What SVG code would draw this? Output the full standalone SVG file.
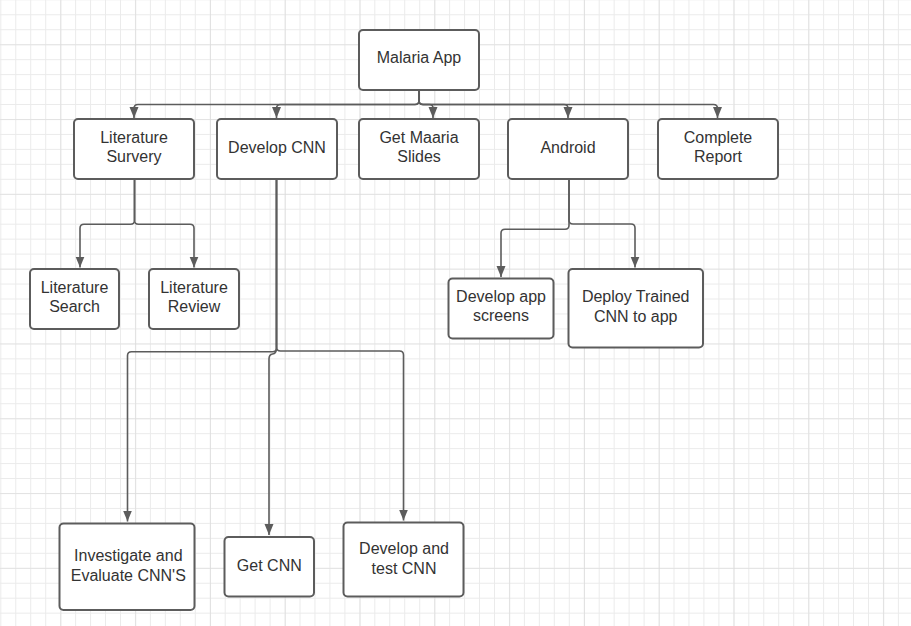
<svg xmlns="http://www.w3.org/2000/svg" width="911" height="626" viewBox="0 0 911 626">
  <defs>
    <!-- fine grid, 5 cells per major square -->
    <pattern id="gridMinor" patternUnits="userSpaceOnUse" x="0.3" y="-0.7" width="14.96" height="14.96">
      <path d="M0,0.5 H14.96 M0.5,0 V14.96" fill="none" stroke="#ebebeb" stroke-width="1"/>
    </pattern>
    <pattern id="gridMajor" patternUnits="userSpaceOnUse" x="60.4" y="44.3" width="74.8" height="74.8">
      <path d="M0,0 H74.8 M0,0 V74.8" fill="none" stroke="#d9d9d9" stroke-width="1.2"/>
    </pattern>
    <marker id="arrow" markerUnits="userSpaceOnUse" markerWidth="12" markerHeight="14" viewBox="0 0 12 14" refX="11" refY="6" orient="auto">
      <path d="M0,1.5 L11,6 L0,10.5 Z" fill="#5c5c5c"/>
    </marker>
  </defs>
  <style>
    .node rect { fill: #ffffff; stroke: #5c5c5c; stroke-width: 2; }
    .node text { font-family: "Liberation Sans", Arial, sans-serif; font-size: 16px; fill: #333333; text-anchor: middle; }
    .edge { fill: none; stroke: #5c5c5c; stroke-width: 1.6; marker-end: url(#arrow); }
  </style>

  <rect width="911" height="626" fill="#ffffff"/>
  <rect width="911" height="626" fill="url(#gridMinor)"/>
  <rect width="911" height="626" fill="url(#gridMajor)"/>

  <g id="connectors">
    <!-- root to second level -->
    <path class="edge" d="M419,90 V100.5 Q419,104.5 415,104.5 H138 Q134,104.5 134,108.5 V118"/>
    <path class="edge" d="M419,90 V100.5 Q419,104.5 415,104.5 H280.5 Q276.5,104.5 276.5,108.5 V118"/>
    <path class="edge" d="M419,90 V100.5 Q419,104.5 423,104.5 H429.5 Q433,104.5 433,108 V118"/>
    <path class="edge" d="M419,90 V100.5 Q419,104.5 423,104.5 H564 Q568,104.5 568,108.5 V118"/>
    <path class="edge" d="M419,90 V100.5 Q419,104.5 423,104.5 H713.5 Q717.5,104.5 717.5,108.5 V118"/>
    <!-- literature survey branch -->
    <path class="edge" d="M134.5,180 V220.3 Q134.5,224.3 130.5,224.3 H84 Q80,224.3 80,228.3 V267.5"/>
    <path class="edge" d="M134.5,180 V220.3 Q134.5,224.3 138.5,224.3 H190 Q194,224.3 194,228.3 V267.5"/>
    <!-- android branch -->
    <path class="edge" d="M569,180 V225.3 Q569,229.3 565,229.3 H505 Q501,229.3 501,233.3 V277"/>
    <path class="edge" d="M569,180 V220 Q569,224 573,224 H631 Q635,224 635,228 V267.5"/>
    <!-- develop cnn branch -->
    <path class="edge" d="M276.5,180 V347.7 Q276.5,351.7 272.5,351.7 H131.5 Q127.5,351.7 127.5,355.7 V521.5"/>
    <path class="edge" d="M276.5,180 V347 Q276.5,351 280.5,351 H399.5 Q403.5,351 403.5,355 V520.5"/>
    <path class="edge" d="M276.5,180 V348 Q276.5,353.5 272.5,354 Q269,354.5 269,359 V535"/>
  </g>

  <g id="malaria-app" class="node">
    <rect x="359" y="30" width="120" height="60" rx="4"/>
    <text x="419" y="63.3">Malaria App</text>
  </g>

  <g id="literature-survery" class="node">
    <rect x="74" y="119" width="120" height="60" rx="4"/>
    <text x="134" y="143.3">Literature</text>
    <text x="134" y="162.3">Survery</text>
  </g>

  <g id="develop-cnn" class="node">
    <rect x="217" y="119" width="120" height="60" rx="4"/>
    <text x="277" y="152.7">Develop CNN</text>
  </g>

  <g id="get-maaria-slides" class="node">
    <rect x="359" y="119" width="120" height="60" rx="4"/>
    <text x="419" y="143.3">Get Maaria</text>
    <text x="419" y="162.3">Slides</text>
  </g>

  <g id="android" class="node">
    <rect x="508" y="119" width="120" height="60" rx="4"/>
    <text x="568" y="152.7">Android</text>
  </g>

  <g id="complete-report" class="node">
    <rect x="658" y="119" width="120" height="60" rx="4"/>
    <text x="718" y="143.3">Complete</text>
    <text x="718" y="162.3">Report</text>
  </g>

  <g id="literature-search" class="node">
    <rect x="30" y="269" width="89" height="60" rx="4"/>
    <text x="74.5" y="293.3">Literature</text>
    <text x="74.5" y="312.3">Search</text>
  </g>

  <g id="literature-review" class="node">
    <rect x="149" y="269" width="90" height="60" rx="4"/>
    <text x="194" y="293.3">Literature</text>
    <text x="194" y="312.3">Review</text>
  </g>

  <g id="develop-app-screens" class="node">
    <rect x="448.5" y="278.5" width="105" height="60" rx="4"/>
    <text x="501" y="302">Develop app</text>
    <text x="501" y="321">screens</text>
  </g>

  <g id="deploy-trained-cnn" class="node">
    <rect x="568.5" y="269" width="134.5" height="78.5" rx="4"/>
    <text x="635.7" y="302">Deploy Trained</text>
    <text x="635.7" y="321.5">CNN to app</text>
  </g>

  <g id="investigate-evaluate" class="node">
    <rect x="59.5" y="523.5" width="135" height="86.5" rx="4"/>
    <text x="128.3" y="560.7">Investigate and</text>
    <text x="128.3" y="580.5">Evaluate CNN'S</text>
  </g>

  <g id="get-cnn" class="node">
    <rect x="224.5" y="537" width="89.5" height="59.5" rx="4"/>
    <text x="269.3" y="570.7">Get CNN</text>
  </g>

  <g id="develop-test-cnn" class="node">
    <rect x="343.5" y="522.5" width="120" height="74" rx="4"/>
    <text x="404" y="554.3">Develop and</text>
    <text x="404" y="574.3">test CNN</text>
  </g>
</svg>
